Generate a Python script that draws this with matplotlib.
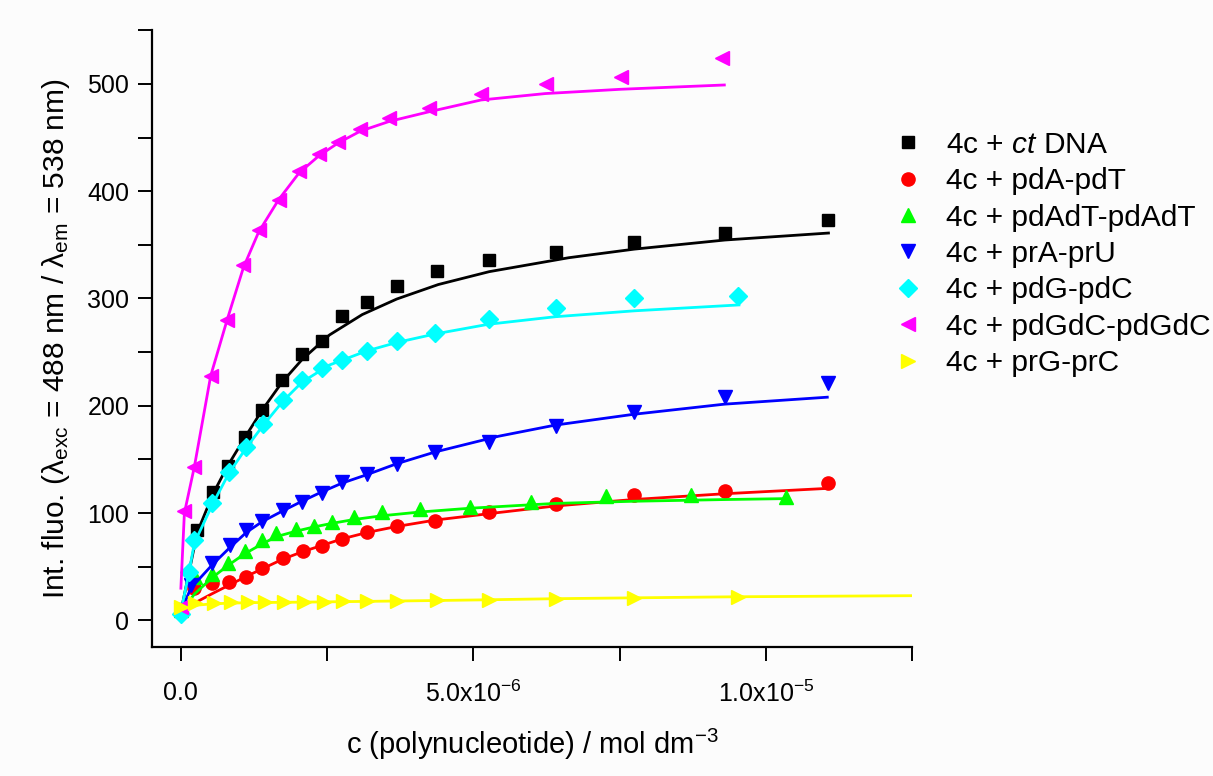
import numpy as np
import matplotlib
matplotlib.use('Agg')
import matplotlib.pyplot as plt
from matplotlib.ticker import MultipleLocator, FuncFormatter
from matplotlib.lines import Line2D

plt.rcParams['font.family'] = ['Liberation Sans', 'DejaVu Sans']
plt.rcParams['mathtext.fontset'] = 'custom'
plt.rcParams['mathtext.rm'] = 'Liberation Sans'
plt.rcParams['mathtext.it'] = 'Liberation Sans:italic'

# concentrations in 1e-6 mol dm-3, intensities in a.u.
# measured points
x_ct = [0, 0.28, 0.55, 0.80, 1.10, 1.39, 1.73, 2.07, 2.42, 2.76, 3.19, 3.69, 4.37, 5.27, 6.41, 7.75, 9.30, 11.07]
y_ct = [10, 84, 120, 144, 171, 196, 224, 248, 260, 284, 297, 312, 326, 336, 343, 353, 361, 373]

x_at = [0, 0.23, 0.54, 0.83, 1.12, 1.39, 1.74, 2.08, 2.42, 2.76, 3.19, 3.69, 4.35, 5.27, 6.41, 7.75, 9.30, 11.07]
y_at = [10, 30, 35, 36, 40, 49, 58, 65, 69, 76, 82, 88, 93, 101, 108, 117, 121, 128]

x_atat = [0, 0.24, 0.54, 0.80, 1.09, 1.38, 1.63, 1.96, 2.27, 2.59, 2.96, 3.44, 4.09, 4.94, 5.99, 7.26, 8.72, 10.35]
y_atat = [10, 40, 43, 53, 65, 75, 81, 85, 88, 92, 96, 101, 104, 106, 110, 116, 117, 115]

x_au = [0, 0.17, 0.54, 0.84, 1.12, 1.39, 1.74, 2.07, 2.42, 2.76, 3.19, 3.69, 4.35, 5.27, 6.41, 7.75, 9.30, 11.07]
y_au = [10, 33, 53, 70, 84, 93, 103, 110, 119, 129, 136, 146, 157, 166, 181, 194, 208, 221]

x_gc = [0, 0.14, 0.23, 0.54, 0.82, 1.12, 1.41, 1.74, 2.07, 2.42, 2.76, 3.19, 3.69, 4.35, 5.27, 6.41, 7.75, 9.52]
y_gc = [6, 45, 75, 109, 138, 162, 183, 205, 224, 235, 243, 251, 260, 268, 281, 291, 300, 302]

x_gcgc = [0, 0.06, 0.23, 0.51, 0.79, 1.07, 1.33, 1.67, 2.02, 2.36, 2.69, 3.07, 3.56, 4.24, 5.13, 6.24, 7.53, 9.25]
y_gcgc = [12, 102, 143, 228, 280, 331, 364, 392, 419, 435, 446, 458, 468, 478, 491, 500, 506, 524]

x_rgc = [0, 0.24, 0.56, 0.85, 1.14, 1.43, 1.77, 2.11, 2.45, 2.77, 3.19, 3.69, 4.37, 5.27, 6.41, 7.75, 9.52]
y_rgc = [12, 16, 16, 17, 17, 17, 17, 17, 17, 18, 18, 18, 19, 19, 20, 21, 22]

# fitted curves
fx_ct = [0, 0.28, 0.55, 0.80, 1.10, 1.39, 1.73, 2.07, 2.54, 3.10, 3.69, 4.40, 5.27, 6.63, 7.75, 9.30, 11.07]
fy_ct = [8, 82, 118, 144, 171, 196, 222, 243, 266, 285, 299.5, 313, 325, 338, 346, 354.5, 361]

fx_at = [0, 0.23, 0.54, 0.83, 1.12, 1.39, 1.74, 2.08, 2.42, 2.76, 3.19, 3.69, 4.35, 5.43, 6.40, 7.73, 9.29, 11.05]
fy_at = [8, 16, 25, 33, 41, 48, 57, 64, 70, 76, 82, 87.5, 93.5, 100.5, 106.6, 112.6, 118, 123]

fx_atat = [0, 0.24, 0.54, 0.80, 1.09, 1.38, 1.63, 1.96, 2.27, 2.59, 2.96, 3.44, 4.09, 4.94, 6.40, 7.73, 9.29, 10.37]
fy_atat = [8, 25, 40, 51, 62, 71, 78, 83, 87, 90.5, 94, 97.5, 101, 104.5, 109, 111, 112.6, 113.5]

fx_au = [0, 0.17, 0.54, 0.84, 1.12, 1.39, 1.74, 2.07, 2.42, 2.76, 3.19, 3.69, 4.35, 5.43, 6.40, 7.73, 9.29, 11.05]
fy_au = [8, 30, 52, 68, 82, 92, 102, 111, 120, 128, 136, 146, 157, 171.6, 182, 192, 201.5, 208]

fx_gc = [0, 0.14, 0.23, 0.54, 0.82, 1.12, 1.41, 1.74, 2.07, 2.54, 3.17, 3.69, 4.35, 5.26, 6.40, 7.75, 9.54]
fy_gc = [8, 45, 72, 108, 137, 161, 182, 204, 222, 238, 251, 259, 267, 276, 283, 288.5, 294]

fx_gcgc = [0, 0.06, 0.23, 0.51, 0.79, 1.07, 1.33, 1.67, 2.02, 2.36, 2.69, 3.07, 3.56, 4.24, 5.13, 6.23, 7.52, 9.29]
fy_gcgc = [30, 100, 143, 228, 280, 329, 362, 392, 417, 433, 445, 456, 465, 474, 485, 491, 495, 499]

fx_rgc = [0, 0.24, 0.56, 1.14, 2.11, 3.19, 4.37, 5.27, 6.41, 7.75, 9.52, 12.5]
fy_rgc = [10, 14, 15.5, 16.5, 17, 17.7, 18.5, 19.2, 20.2, 21, 22, 23]

labels = ['4c + $\\it{ct}$ DNA', '4c + pdA-pdT', '4c + pdAdT-pdAdT', '4c + prA-prU',
          '4c + pdG-pdC', '4c + pdGdC-pdGdC', '4c + prG-prC']
colors = ['#000000', '#ff0000', '#00ff00', '#0000ff', '#00ffff', '#ff00ff', '#ffff00']
markers = ['s', 'o', '^', 'v', 'D', '<', '>']
sizes = [9, 9.5, 10, 10, 9, 10, 10]

xs = [x_ct, x_at, x_atat, x_au, x_gc, x_gcgc, x_rgc]
ys = [y_ct, y_at, y_atat, y_au, y_gc, y_gcgc, y_rgc]
fxs = [fx_ct, fx_at, fx_atat, fx_au, fx_gc, fx_gcgc, fx_rgc]
fys = [fy_ct, fy_at, fy_atat, fy_au, fy_gc, fy_gcgc, fy_rgc]

fig = plt.figure(figsize=(12.13, 7.76), dpi=100)
fig.patch.set_facecolor('#fcfcfc')
ax = fig.add_axes([0.125, 0.166, 0.627, 0.795])
ax.set_facecolor('#fcfcfc')

for i in range(7):
    ax.plot(np.array(fxs[i]) * 1e-6, fys[i], color=colors[i], lw=2.0,
            solid_joinstyle='round', zorder=2 + i)
    ax.plot(np.array(xs[i]) * 1e-6, ys[i], ls='none', marker=markers[i], ms=sizes[i],
            color=colors[i], mec=colors[i], zorder=2 + i)

ax.set_xlim(-5e-7, 1.2501e-5)
ax.set_ylim(-25, 550)

ax.spines['top'].set_visible(False)
ax.spines['right'].set_visible(False)
for s in ['left', 'bottom']:
    ax.spines[s].set_linewidth(1.6)

ax.xaxis.set_major_locator(MultipleLocator(5e-6))
ax.xaxis.set_minor_locator(MultipleLocator(2.5e-6))
ax.yaxis.set_major_locator(MultipleLocator(100))
ax.yaxis.set_minor_locator(MultipleLocator(50))


def xfmt(v, pos):
    if abs(v) < 1e-12:
        return '0.0'
    e = int(np.floor(np.log10(abs(v))))
    return '%.1fx10$^{%d}$' % (v / 10 ** e, e)


ax.xaxis.set_major_formatter(FuncFormatter(xfmt))
ax.tick_params(which='both', direction='out', length=10, width=1.4)
ax.tick_params(axis='x', labelsize=18, pad=14)
ax.tick_params(axis='y', labelsize=18, pad=6)

ax.set_xlabel('c (polynucleotide) / mol dm$^{-3}$', fontsize=21, labelpad=14)
ax.set_ylabel('Int. fluo. ($\\mathregular{\\lambda_{exc}}$ = 488 nm / '
              '$\\mathregular{\\lambda_{em}}$ = 538 nm)', fontsize=21.5, labelpad=11)

handles = [Line2D([], [], ls='none', marker=markers[i], ms=sizes[i], color=colors[i])
           for i in range(7)]
fig.legend(handles, labels, loc='upper left', bbox_to_anchor=(0.714, 0.866),
           frameon=False, fontsize=21.5, handlelength=1.0, handletextpad=0.77,
           labelspacing=0.28)

fig.savefig('out.png', dpi=100, facecolor=fig.get_facecolor())
